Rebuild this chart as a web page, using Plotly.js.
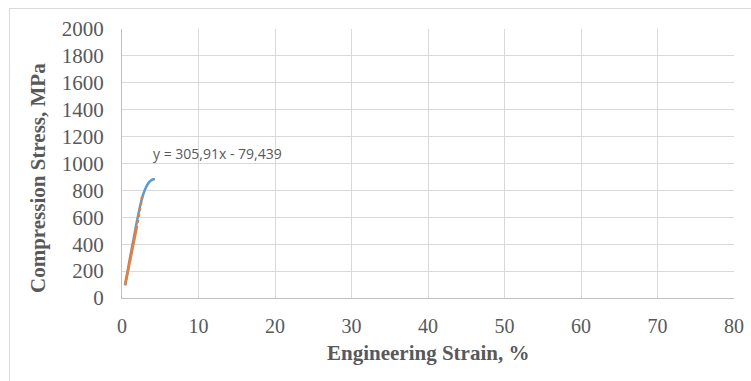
<!DOCTYPE html>
<html>
<head>
<meta charset="utf-8">
<script src="https://cdn.plot.ly/plotly-3.0.1.min.js"></script>
<style>
html,body{margin:0;padding:0;background:#fff;}
#chart{width:751px;height:381px;}
</style>
</head>
<body>
<div id="chart"></div>
<script>
// Measured curve (blue)
const strainMeasured = [0.38, 0.7, 1.0, 1.3, 1.6, 1.9, 2.2, 2.5, 2.8, 3.1, 3.4, 3.7, 4.0, 4.3];
const stressMeasured = [95, 190, 285, 375, 465, 555, 640, 715, 775, 818, 850, 870, 881, 885];
// Linear fit region (orange, solid part)
const strainFit = [0.42, 1.9];
const stressFit = [95, 515];
// Orange dotted continuation
const strainFitDots = [1.9, 2.15, 2.4, 2.7];
const stressFitDots = [515, 600, 690, 775];
const equationText = "y = 305,91x - 79,439";
const xTicks = [0, 10, 20, 30, 40, 50, 60, 70, 80];
const yTicks = [0, 200, 400, 600, 800, 1000, 1200, 1400, 1600, 1800, 2000];

const W = 751, H = 381;
const mL = 122, mR = 17, mT = 29, mB = 83;
const pw = W - mL - mR, ph = H - mT - mB;
const px = v => (v - mL) / pw;
const py = v => (H - mB - v) / ph;

const traces = [
  {x: strainMeasured, y: stressMeasured, mode: 'lines', line: {color: '#5B9BD5', width: 2.5, shape: 'spline'}, hoverinfo: 'skip'},
  {x: strainFit, y: stressFit, mode: 'lines', line: {color: '#ED7D31', width: 2.5}, hoverinfo: 'skip'},
  {x: strainFitDots, y: stressFitDots, mode: 'lines', line: {color: '#ED7D31', width: 2.5, dash: 'dot'}, hoverinfo: 'skip'}
];

const SERIF = "Liberation Serif";

const layout = {
  width: W, height: H,
  margin: {l: mL, r: mR, t: mT, b: mB, pad: 0},
  paper_bgcolor: '#ffffff', plot_bgcolor: '#ffffff',
  showlegend: false,
  font: {family: SERIF, color: '#595959', size: 20},
  xaxis: {
    range: [0, 80], tickvals: xTicks, ticktext: xTicks.map(String),
    showgrid: true, gridcolor: '#D9D9D9', gridwidth: 1,
    zeroline: false, showline: true, linecolor: '#BFBFBF', linewidth: 1, mirror: false,
    ticks: '', tickfont: {family: SERIF, size: 20, color: '#595959'}, ticklabelstandoff: 10,
    fixedrange: true
  },
  yaxis: {
    range: [0, 2000], tickvals: yTicks, ticktext: yTicks.map(String),
    showgrid: true, gridcolor: '#D9D9D9', gridwidth: 1,
    zeroline: false, showline: true, linecolor: '#BFBFBF', linewidth: 1, mirror: false,
    ticks: '', tickfont: {family: SERIF, size: 21, color: '#595959'}, ticklabelstandoff: 13,
    fixedrange: true
  },
  annotations: [
    {text: equationText, xref: 'paper', yref: 'paper', x: px(217), y: py(153), xanchor: 'center', yanchor: 'middle',
     showarrow: false, font: {family: "Open Sans", size: 14, color: '#595959'}},
    {text: '<b>Engineering Strain, %</b>', xref: 'paper', yref: 'paper', x: 0.5, y: py(353), xanchor: 'center', yanchor: 'middle',
     showarrow: false, font: {family: SERIF, size: 21, color: '#595959'}},
    {text: '<b>Compression Stress, MPa</b>', xref: 'paper', yref: 'paper', x: px(38), y: py(178), xanchor: 'center', yanchor: 'middle',
     textangle: -90, showarrow: false, font: {family: SERIF, size: 21, color: '#595959'}}
  ],
  shapes: [
    {type: 'line', xref: 'paper', yref: 'paper', x0: px(9.5), x1: px(751), y0: py(8.5), y1: py(8.5), line: {color: '#D9D9D9', width: 1}},
    {type: 'line', xref: 'paper', yref: 'paper', x0: px(9.5), x1: px(9.5), y0: py(8.5), y1: py(390), line: {color: '#D9D9D9', width: 1}}
  ]
};

Plotly.newPlot('chart', traces, layout, {displayModeBar: false, staticPlot: true});
</script>
</body>
</html>
